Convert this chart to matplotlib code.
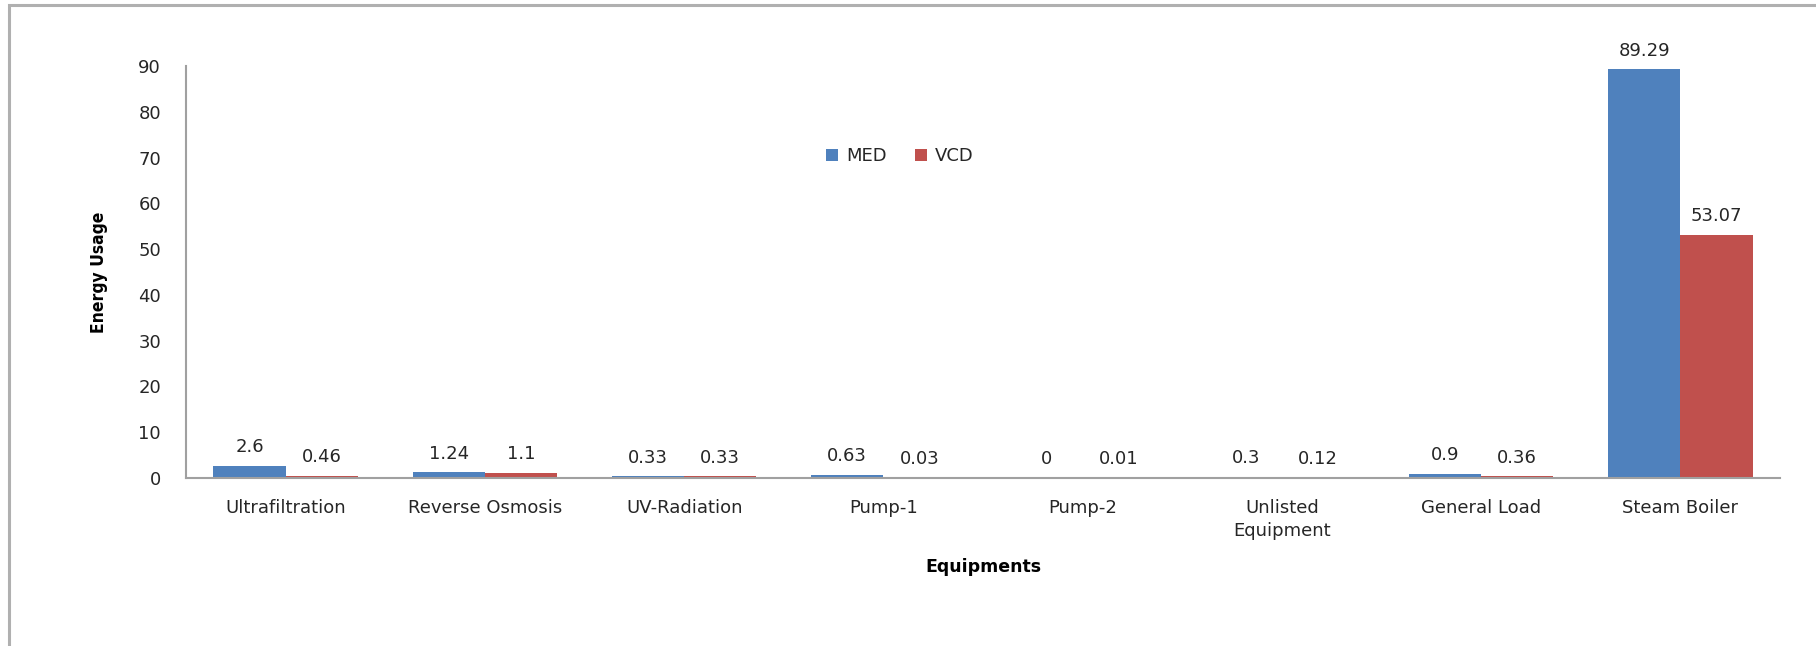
import matplotlib
matplotlib.use("Agg")
import matplotlib.pyplot as plt
from matplotlib.patches import Rectangle
import numpy as np

categories = ["Ultrafiltration", "Reverse Osmosis", "UV-Radiation", "Pump-1",
              "Pump-2", "Unlisted\nEquipment", "General Load", "Steam Boiler"]
med = [2.6, 1.24, 0.33, 0.63, 0, 0.3, 0.9, 89.29]
vcd = [0.46, 1.1, 0.33, 0.03, 0.01, 0.12, 0.36, 53.07]
yticks = [0, 10, 20, 30, 40, 50, 60, 70, 80, 90]

MED_COLOR = "#4F81BD"
VCD_COLOR = "#C0504D"
TEXT_COLOR = "#262626"
FS = 13

plt.rcParams["font.family"] = ["DejaVu Sans"]

W, H = 1816, 646
fig = plt.figure(figsize=(W / 100, H / 100), dpi=100)

# outer chart frame (open on the right and bottom)
fig.patches.append(Rectangle((9 / W, -0.1), 1.2, (H - 5) / H + 0.1,
                             transform=fig.transFigure, fill=False,
                             edgecolor="#b0b0b0", linewidth=2.2))

left, right = 186 / W, 1780 / W
bottom, top = 1 - 478 / H, 1 - 66 / H
ax = fig.add_axes([left, bottom, right - left, top - bottom])

x = np.arange(len(categories))
bw = 0.362
b1 = ax.bar(x - bw / 2, med, bw, color=MED_COLOR, label="MED", zorder=2)
b2 = ax.bar(x + bw / 2, vcd, bw, color=VCD_COLOR, label="VCD", zorder=2)

for bars, vals in ((b1, med), (b2, vcd)):
    for rect, v in zip(bars, vals):
        ax.annotate(f"{v:g}", (rect.get_x() + rect.get_width() / 2, v),
                    xytext=(0, 7), textcoords="offset points",
                    ha="center", va="bottom", fontsize=FS, color=TEXT_COLOR)

ax.set_xlim(-0.5, len(categories) - 0.5)
ax.set_ylim(0, 90)
ax.set_yticks(yticks)
ax.set_xticks(x)
ax.set_xticklabels(categories, fontsize=FS, color=TEXT_COLOR, linespacing=1.4)
ax.tick_params(axis="both", length=0, labelsize=FS, colors=TEXT_COLOR)
ax.tick_params(axis="y", pad=18)
ax.tick_params(axis="x", pad=15)

for s in ("top", "right"):
    ax.spines[s].set_visible(False)
for s in ("left", "bottom"):
    ax.spines[s].set_color("#a0a0a0")
    ax.spines[s].set_linewidth(1.5)

# axis titles
fig.text(99 / W, 1 - 272 / H, "Energy Usage", rotation=90, ha="center",
         va="center", fontsize=12.5, fontweight="bold", fontstretch="condensed",
         family=["Liberation Sans Narrow", "DejaVu Sans"], color="black")
fig.text(983 / W, 1 - 567 / H, "Equipments", ha="center", va="center",
         fontsize=12.5, fontweight="bold", color="black")

leg = ax.legend(loc="center", bbox_to_anchor=(900 / W, 1 - 156 / H),
                bbox_transform=fig.transFigure, ncol=2, frameon=False,
                fontsize=FS, handlelength=0.65, handleheight=0.65,
                handletextpad=0.45, columnspacing=1.6)
for t in leg.get_texts():
    t.set_color(TEXT_COLOR)

fig.savefig("out.png", dpi=100, facecolor="white")
